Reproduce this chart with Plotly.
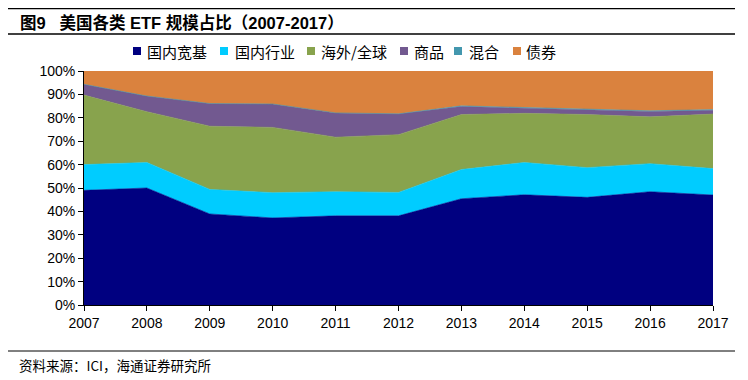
import plotly.graph_objects as go

years = [2007, 2008, 2009, 2010, 2011, 2012, 2013, 2014, 2015, 2016, 2017]
broad = [49.0, 50.0, 38.9, 37.2, 38.1, 38.1, 45.4, 47.1, 46.0, 48.4, 47.0]
sector = [11.0, 10.9, 10.5, 10.8, 10.3, 10.0, 12.5, 13.8, 12.7, 12.0, 11.3]
intl = [29.7, 21.7, 27.0, 27.9, 23.3, 24.7, 23.5, 21.0, 22.7, 20.0, 23.3]
commodity = [4.6, 6.7, 9.7, 10.0, 10.4, 8.9, 3.4, 2.3, 2.0, 2.3, 1.6]
mixed = [0.0, 0.0, 0.0, 0.0, 0.0, 0.0, 0.3, 0.3, 0.3, 0.3, 0.3]
bond = [5.7, 10.7, 13.9, 14.1, 17.9, 18.3, 14.9, 15.5, 16.3, 17.0, 16.5]

names = ["国内宽基", "国内行业", "海外/全球", "商品", "混合", "债券"]
colors = ["#000080", "#00CCFF", "#88A34D", "#725990", "#4397AE", "#DA823E"]
values = [broad, sector, intl, commodity, mixed, bond]

fig = go.Figure()
for name, vals, col in zip(names, values, colors):
    fig.add_trace(go.Scatter(
        x=years, y=vals, name=name, stackgroup="one", mode="lines",
        line=dict(width=0.6, color=col), fillcolor=col, showlegend=False,
    ))

cjk = "Noto Sans CJK SC"
W, H = 740, 372
L, R, T, B = 76, 35, 63, 75
fig.update_layout(
    width=W, height=H,
    margin=dict(l=L, r=R, t=T, b=B, autoexpand=False),
    plot_bgcolor="white", paper_bgcolor="white",
    showlegend=False,
    xaxis=dict(range=[2007, 2017], tickmode="array", tickvals=years,
               ticktext=[str(y) for y in years],
               showgrid=False, zeroline=False, showline=True, linecolor="black",
               linewidth=1, ticks="outside", ticklen=5, tickcolor="black",
               tickfont=dict(family="Liberation Sans", size=14, color="black")),
    yaxis=dict(range=[0, 100], dtick=10, ticksuffix="%",
               showgrid=False, zeroline=False, showline=True, linecolor="black",
               linewidth=1, ticks="outside", ticklen=5, tickcolor="black",
               tickfont=dict(family="Liberation Sans", size=14, color="black")),
)

pw, ph = W - L - R, H - T - B


def px(X):  # reference-pixel x -> paper
    return (X - 8 - L) / pw


def py(Y):  # reference-pixel y -> paper
    return (H - B - (Y - 8)) / ph


# header / footer lines
for yy, w in [(8.5, 1.5), (34, 1.5), (351, 1)]:
    fig.add_shape(type="line", xref="paper", yref="paper", x0=px(8), x1=px(735),
                  y0=py(yy), y1=py(yy), line=dict(color="black", width=w))

fig.add_annotation(xref="paper", yref="paper", x=px(18), y=py(22), xanchor="left",
                   yanchor="middle", showarrow=False,
                   text="<b>图9&nbsp;&nbsp; 美国各类 ETF 规模占比（2007-2017）</b>",
                   font=dict(family="Liberation Sans, " + cjk, size=16.5, color="black"))
fig.add_annotation(xref="paper", yref="paper", x=px(17), y=py(365), xanchor="left",
                   yanchor="middle", showarrow=False,
                   text="资料来源：ICI，海通证券研究所",
                   font=dict(family=cjk, size=13.5, color="black"))

# legend (manual)
sq_x = [133, 220, 307, 400, 454, 513]
tx_x = [145, 233, 319, 412, 467, 524]
ly = 51
for name, col, sx, tx in zip(names, colors, sq_x, tx_x):
    fig.add_shape(type="rect", xref="paper", yref="paper",
                  x0=px(sx), x1=px(sx + 8), y0=py(ly - 4), y1=py(ly + 4),
                  fillcolor=col, line=dict(width=0))
    fig.add_annotation(xref="paper", yref="paper", x=px(tx), y=py(ly), xanchor="left",
                       yanchor="middle", showarrow=False, text=name,
                       font=dict(family=cjk, size=15, color="black"))

fig.write_html("out.html")
